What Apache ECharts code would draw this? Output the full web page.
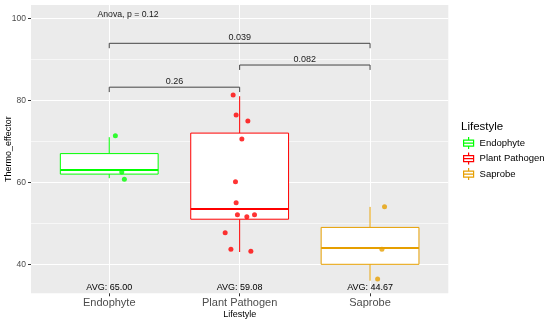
<!DOCTYPE html>
<html><head><meta charset="utf-8">
<script src="https://cdn.jsdelivr.net/npm/echarts@6/dist/echarts.min.js"></script>
<style>html,body{margin:0;padding:0;background:#fff}#c{width:550px;height:323px}</style>
</head><body><div id="c"></div>
<script>
// ---------- data ----------
const categories = ['Endophyte', 'Plant Pathogen', 'Saprobe'];
// [min, Q1, median, Q3, max]
const endophyteBox = [61, 62, 63, 67, 71];
const pathogenBox = [43, 51, 53.5, 72, 81];
const saprobeBox = [36, 40, 44, 49, 54];
const avgValues = [65.00, 59.08, 44.67];
// jittered points [x position on axis, value]
const endophytePoints = [[1.047, 71.37], [1.096, 62.51], [1.116, 60.73]];
const pathogenPoints = [[1.950, 81.29], [1.973, 76.41], [2.063, 74.95], [2.017, 70.56], [1.968, 60.15], [1.973, 55.02],
  [1.983, 52.10], [2.055, 51.61], [2.114, 52.10], [1.889, 47.71], [1.933, 43.66], [2.086, 43.17]];
const saprobePoints = [[3.111, 54.05], [3.091, 43.66], [3.058, 36.41]];
const yTicks = [40, 60, 80, 100];
const yMinorTicks = [50, 70, 90];
const comparePairs = [[0, 1], [1, 2], [0, 2]];
const comparePValues = ['0.26', '0.082', '0.039'];
const anovaText = 'Anova, p = 0.12';

// ---------- layout / style ----------
const colors = ['#00FF00', '#FF0000', '#E69F00'];
const bracketLevels = [83.2, 88.6, 93.9];
const bracketDrop = 1.2;
const avgLabelY = 34.3;
const anovaPos = [1.144, 100.8];
const FONT = '"Liberation Sans", Arial, sans-serif';
const boxData = [endophyteBox, pathogenBox, saprobeBox];
const pointData = [endophytePoints, pathogenPoints, saprobePoints];
const boxHalf = 0.375;

function boxRender(params, api) {
  const x = api.value(0);
  const lo = api.value(1), q1 = api.value(2), med = api.value(3), q3 = api.value(4), hi = api.value(5);
  const c = api.visual('color');
  const tl = api.coord([x - boxHalf, q3]);
  const br = api.coord([x + boxHalf, q1]);
  const cx = api.coord([x, med])[0];
  const yHi = api.coord([x, hi])[1], yLo = api.coord([x, lo])[1], yMed = api.coord([x, med])[1];
  return {
    type: 'group', children: [
      { type: 'line', shape: { x1: cx, y1: yHi, x2: cx, y2: tl[1] }, style: { stroke: c, lineWidth: 1 } },
      { type: 'line', shape: { x1: cx, y1: br[1], x2: cx, y2: yLo }, style: { stroke: c, lineWidth: 1 } },
      { type: 'rect', shape: { x: tl[0], y: tl[1], width: br[0] - tl[0], height: br[1] - tl[1] }, style: { fill: '#fff', stroke: c, lineWidth: 1 } },
      { type: 'line', shape: { x1: tl[0], y1: yMed, x2: br[0], y2: yMed }, style: { stroke: c, lineWidth: 2 } }
    ]
  };
}

const series = [];
categories.forEach((name, i) => {
  series.push({
    type: 'custom', name, z: 2, color: colors[i], silent: true,
    data: [[i + 1].concat(boxData[i])],
    encode: { x: 0, y: [1, 2, 3, 4, 5] },
    renderItem: boxRender
  });
});
categories.forEach((name, i) => {
  series.push({
    type: 'scatter', name, z: 3, color: colors[i], symbolSize: 5, silent: true,
    data: pointData[i]
  });
});
// AVG labels
series.push({
  type: 'custom', z: 4, silent: true,
  data: avgValues.map((v, i) => [i + 1, v]),
  encode: { x: 0, y: 1 },
  renderItem(params, api) {
    const p = api.coord([api.value(0), avgLabelY]);
    return { type: 'text', x: p[0], y: p[1], style: { text: 'AVG: ' + api.value(1).toFixed(2), fill: '#000', fontSize: 9, fontFamily: FONT, align: 'center', verticalAlign: 'middle' } };
  }
});
// brackets
series.push({
  type: 'custom', z: 4, silent: true,
  data: comparePairs.map((p, i) => [p[0] + 1, p[1] + 1, bracketLevels[i], i]),
  encode: { x: [0, 1], y: 2 },
  renderItem(params, api) {
    const x1 = api.value(0), x2 = api.value(1), y = api.value(2);
    const a = api.coord([x1, y]), b = api.coord([x2, y]);
    const a2 = api.coord([x1, y - bracketDrop]), b2 = api.coord([x2, y - bracketDrop]);
    return {
      type: 'group', children: [
        { type: 'polyline', shape: { points: [[a2[0], a2[1]], [a[0], a[1]], [b[0], b[1]], [b2[0], b2[1]]] }, style: { stroke: '#444', lineWidth: 1, fill: null } },
        { type: 'text', x: (a[0] + b[0]) / 2, y: a[1] - 1.5, style: { text: comparePValues[api.value(3)], fill: '#1a1a1a', fontSize: 9, fontFamily: FONT, align: 'center', verticalAlign: 'bottom' } }
      ]
    };
  }
});
// anova label
series.push({
  type: 'custom', z: 4, silent: true,
  data: [anovaPos],
  encode: { x: 0, y: 1 },
  renderItem(params, api) {
    const p = api.coord([api.value(0), api.value(1)]);
    return { type: 'text', x: p[0], y: p[1], style: { text: anovaText, fill: '#1a1a1a', fontSize: 8.7, fontFamily: FONT, align: 'center', verticalAlign: 'middle' } };
  }
});

const boxIcon = 'path://M7,1L7,4M2,4L12,4L12,10L2,10ZM2,7L12,7M7,10L7,13';

const option = {
  animation: false,
  textStyle: { fontFamily: FONT },
  grid: { left: 31, top: 5, right: 101.7, bottom: 29.7, show: true, backgroundColor: '#EBEBEB', borderWidth: 0, outerBoundsMode: 'none', containLabel: false },
  title: { text: 'Lifestyle', left: 461, top: 121, padding: 0, textStyle: { fontSize: 11.5, fontWeight: 'normal', color: '#000', fontFamily: FONT } },
  legend: {
    orient: 'vertical', left: 463, top: 136.5, itemWidth: 12, itemHeight: 12, itemGap: 2.3, padding: 0,
    selectedMode: false,
    textStyle: { fontSize: 9.5, color: '#000', fontFamily: FONT },
    data: categories.map((n, i) => ({ name: n, icon: boxIcon, itemStyle: { color: '#fff', borderColor: colors[i], borderWidth: 1.2 } }))
  },
  xAxis: {
    type: 'value', min: 0.4, max: 3.6,
    axisLine: { show: false },
    axisTick: { show: true, length: 3, lineStyle: { color: '#333' }, customValues: [1, 2, 3] },
    axisLabel: { customValues: [1, 2, 3], formatter: v => categories[Math.round(v) - 1], fontSize: 11, color: '#4D4D4D', margin: 4, fontFamily: FONT },
    splitLine: { show: true, lineStyle: { color: '#fff', width: 1 } },
    name: 'Lifestyle', nameLocation: 'middle', nameGap: 17, nameMoveOverlap: false,
    nameTextStyle: { fontSize: 9, color: '#000', fontFamily: FONT }
  },
  yAxis: [{
    type: 'value', min: 32.93, max: 103.24,
    axisLine: { show: false },
    axisTick: { show: true, length: 3, lineStyle: { color: '#333' }, customValues: yTicks },
    axisLabel: { customValues: yTicks, fontSize: 8.5, color: '#4D4D4D', margin: 5, fontFamily: FONT },
    splitLine: { show: true, lineStyle: { color: '#fff', width: 1 } },
    name: 'Thermo_effector', nameLocation: 'middle', nameGap: 18, nameRotate: 90, nameMoveOverlap: false,
    nameTextStyle: { fontSize: 9, color: '#000', fontFamily: FONT }
  }, {
    type: 'value', min: 32.93, max: 103.24, position: 'left',
    axisLine: { show: false },
    axisTick: { show: false, customValues: yMinorTicks },
    axisLabel: { show: false },
    splitLine: { show: true, lineStyle: { color: '#fff', width: 0.6 } }
  }],
  series
};
const chart = echarts.init(document.getElementById('c'), null, { renderer: 'canvas' });
chart.setOption(option);
</script>
</body></html>
